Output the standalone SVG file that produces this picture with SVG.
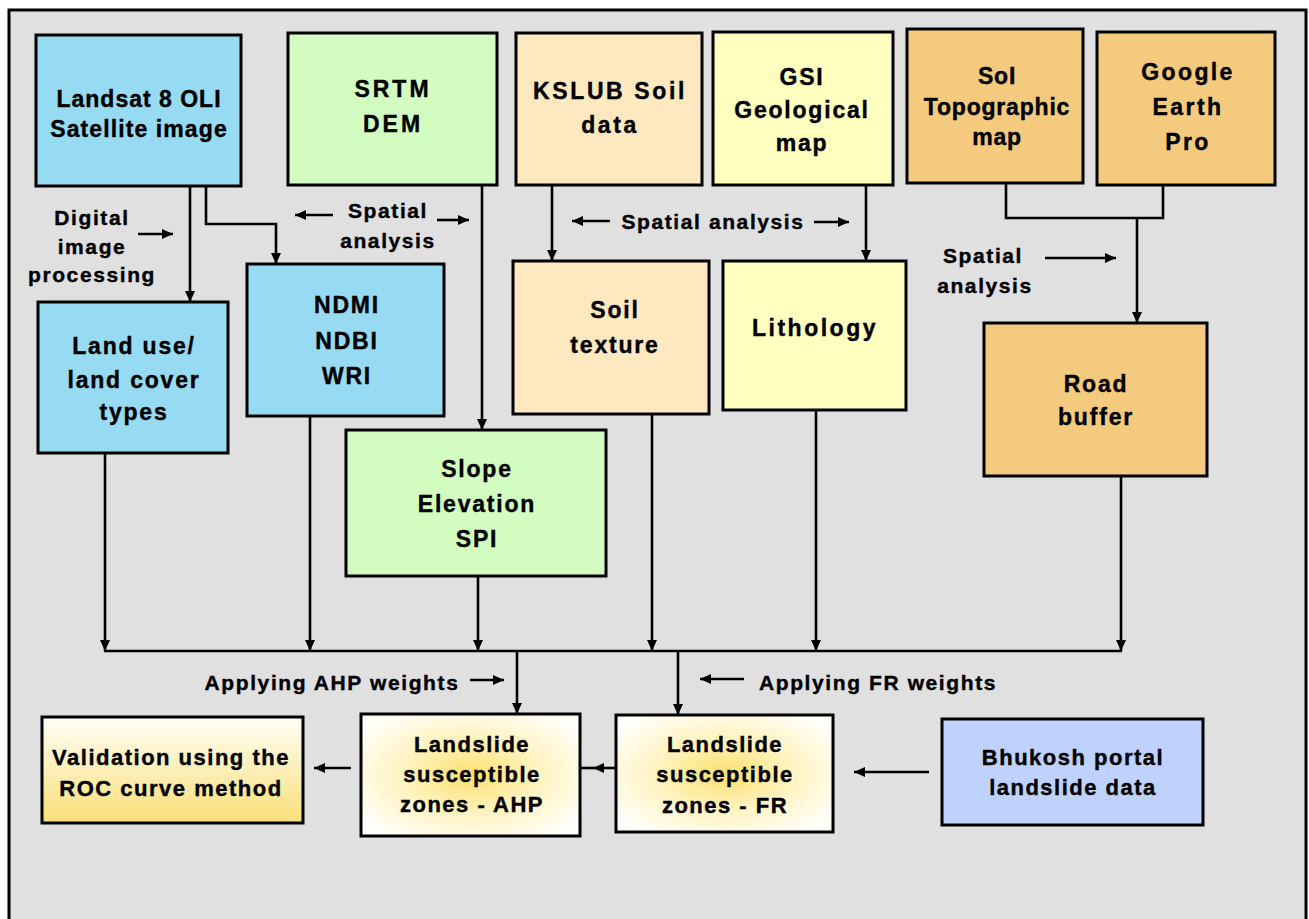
<svg xmlns="http://www.w3.org/2000/svg" width="1309" height="919" viewBox="0 0 1309 919">
<style>
.box{stroke:#000;stroke-width:3}
.blue{fill:#97dbf2}
.green{fill:#d3fdc0}
.peach{fill:#fde8c0}
.yel{fill:#ffffc0}
.org{fill:#f4ca7e}
.per{fill:#bed2fd}
text{font-family:"Liberation Sans",Arial,sans-serif;font-weight:bold;fill:#000;text-anchor:middle;stroke:#000;stroke-width:0.4}
.t{font-size:23px;letter-spacing:1.8px}
.b{font-size:22px;letter-spacing:1.5px}
.l{font-size:21px;letter-spacing:1.6px}
.c{fill:none;stroke:#000;stroke-width:2.6}
.a{marker-end:url(#ah)}
</style>
<defs>
<marker id="ah" markerUnits="userSpaceOnUse" markerWidth="12" markerHeight="10" refX="11" refY="5" orient="auto">
<path d="M0,0 L11,5 L0,10 z" fill="#000"/>
</marker>
<linearGradient id="gv" x1="0" y1="0" x2="0" y2="1">
<stop offset="0" stop-color="#fffef6"/>
<stop offset="1" stop-color="#f9df78"/>
</linearGradient>
<radialGradient id="gr" cx="0.5" cy="0.5" r="0.6">
<stop offset="0" stop-color="#fbe070"/>
<stop offset="0.55" stop-color="#fff4c4"/>
<stop offset="1" stop-color="#fffef8"/>
</radialGradient>
</defs>
<rect x="0" y="0" width="1309" height="919" fill="#fff"/>
<rect x="9" y="10" width="1297" height="940" fill="#e0e0e0" stroke="#000" stroke-width="3"/>

<g id="landsat"><rect class="box blue" x="36" y="35" width="205" height="151"/>
<text class="t" x="139" y="107" style="letter-spacing:1px">Landsat 8 OLI</text><text class="t" x="139" y="137" style="letter-spacing:1.1px">Satellite image</text></g>
<g id="srtm"><rect class="box green" x="288" y="33" width="209" height="152"/>
<text class="t" x="393" y="97" style="letter-spacing:3px">SRTM</text><text class="t" x="393" y="132" style="letter-spacing:3px">DEM</text></g>
<g id="kslub"><rect class="box peach" x="516" y="33" width="186" height="152"/>
<text class="t" x="610" y="99" style="letter-spacing:2.6px">KSLUB Soil</text><text class="t" x="610" y="133" style="letter-spacing:2.6px">data</text></g>
<g id="gsi"><rect class="box yel" x="713" y="32" width="180" height="153"/>
<text class="t" x="802" y="85">GSI</text><text class="t" x="802" y="118">Geological</text><text class="t" x="802" y="151">map</text></g>
<g id="soi"><rect class="box org" x="907" y="29" width="176" height="154"/>
<text class="t" x="997" y="84" style="letter-spacing:0.8px">SoI</text><text class="t" x="997" y="115" style="letter-spacing:0.8px">Topographic</text><text class="t" x="997" y="145" style="letter-spacing:0.8px">map</text></g>
<g id="google"><rect class="box org" x="1097" y="32" width="178" height="153"/>
<text class="t" x="1188" y="80" style="letter-spacing:2.4px">Google</text><text class="t" x="1188" y="115" style="letter-spacing:2.4px">Earth</text><text class="t" x="1188" y="150" style="letter-spacing:2.4px">Pro</text></g>

<g id="landuse"><rect class="box blue" x="38" y="302" width="190" height="151"/>
<text class="t" x="134" y="354">Land use/</text><text class="t" x="134" y="388">land cover</text><text class="t" x="134" y="420">types</text></g>
<g id="ndmi"><rect class="box blue" x="247" y="264" width="197" height="152"/>
<text class="t" x="347" y="313">NDMI</text><text class="t" x="347" y="349">NDBI</text><text class="t" x="347" y="384">WRI</text></g>
<g id="slope"><rect class="box green" x="346" y="430" width="260" height="146"/>
<text class="t" x="477" y="477">Slope</text><text class="t" x="477" y="512">Elevation</text><text class="t" x="477" y="547">SPI</text></g>
<g id="soiltexture"><rect class="box peach" x="513" y="261" width="196" height="153"/>
<text class="t" x="615" y="318">Soil</text><text class="t" x="615" y="353">texture</text></g>
<g id="lithology"><rect class="box yel" x="723" y="261" width="183" height="149"/>
<text class="t" x="815" y="336" style="letter-spacing:2.5px">Lithology</text></g>
<g id="road"><rect class="box org" x="984" y="323" width="223" height="153"/>
<text class="t" x="1096" y="392">Road</text><text class="t" x="1096" y="425">buffer</text></g>

<g id="validation"><rect class="box" fill="url(#gv)" x="42" y="717" width="261" height="106"/>
<text class="b" x="171" y="765">Validation using the</text><text class="b" x="171" y="796">ROC curve method</text></g>
<g id="ahp"><rect class="box" fill="url(#gr)" x="361" y="714" width="219" height="122"/>
<text class="b" x="472" y="752">Landslide</text><text class="b" x="472" y="782">susceptible</text><text class="b" x="472" y="812">zones - AHP</text></g>
<g id="fr"><rect class="box" fill="url(#gr)" x="616" y="715" width="217" height="117"/>
<text class="b" x="725" y="752">Landslide</text><text class="b" x="725" y="782">susceptible</text><text class="b" x="725" y="813">zones - FR</text></g>
<g id="bhukosh"><rect class="box per" x="942" y="719" width="261" height="106"/>
<text class="b" x="1073" y="765">Bhukosh portal</text><text class="b" x="1073" y="795">landslide data</text></g>

<g id="labels">
<text class="l" x="92" y="225">Digital</text><text class="l" x="92" y="254">image</text><text class="l" x="92" y="282">processing</text>
<text class="l" x="388" y="218">Spatial</text><text class="l" x="388" y="248">analysis</text>
<text class="l" x="713" y="229">Spatial analysis</text>
<text class="l" x="983" y="263">Spatial</text><text class="l" x="985" y="293">analysis</text>
<text class="l" x="332" y="690">Applying AHP weights</text>
<text class="l" x="878" y="690">Applying FR weights</text>
</g>

<g id="connectors">
<path class="c a" d="M138 234 H173"/>
<path class="c a" d="M333 215 H295"/>
<path class="c a" d="M437 220 H469"/>
<path class="c a" d="M610 221 H572"/>
<path class="c a" d="M814 222 H849"/>
<path class="c a" d="M1045 258 H1116"/>
<path class="c a" d="M470 680 H504"/>
<path class="c a" d="M744 679 H700"/>

<path class="c a" d="M190 186 V302"/>
<path class="c a" d="M206 186 V224 H276 V264"/>
<path class="c a" d="M482 185 V430"/>
<path class="c a" d="M552 185 V261"/>
<path class="c a" d="M866 185 V261"/>
<path class="c" d="M1006 183 V218 H1163 V185"/>
<path class="c a" d="M1137 218 V323"/>

<path class="c a" d="M105 453 V651"/>
<path class="c a" d="M310 416 V651"/>
<path class="c a" d="M478 576 V651"/>
<path class="c a" d="M652 414 V651"/>
<path class="c a" d="M816 410 V651"/>
<path class="c a" d="M1121 476 V651"/>
<path class="c" d="M104 651 H1122"/>
<path class="c a" d="M517 651 V714"/>
<path class="c a" d="M678 651 V715"/>

<path class="c a" d="M616 768 H593"/>
<path class="c" d="M594 768 H580"/>
<path class="c a" d="M351 768 H314"/>
<path class="c a" d="M929 772 H854"/>
</g>
</svg>
